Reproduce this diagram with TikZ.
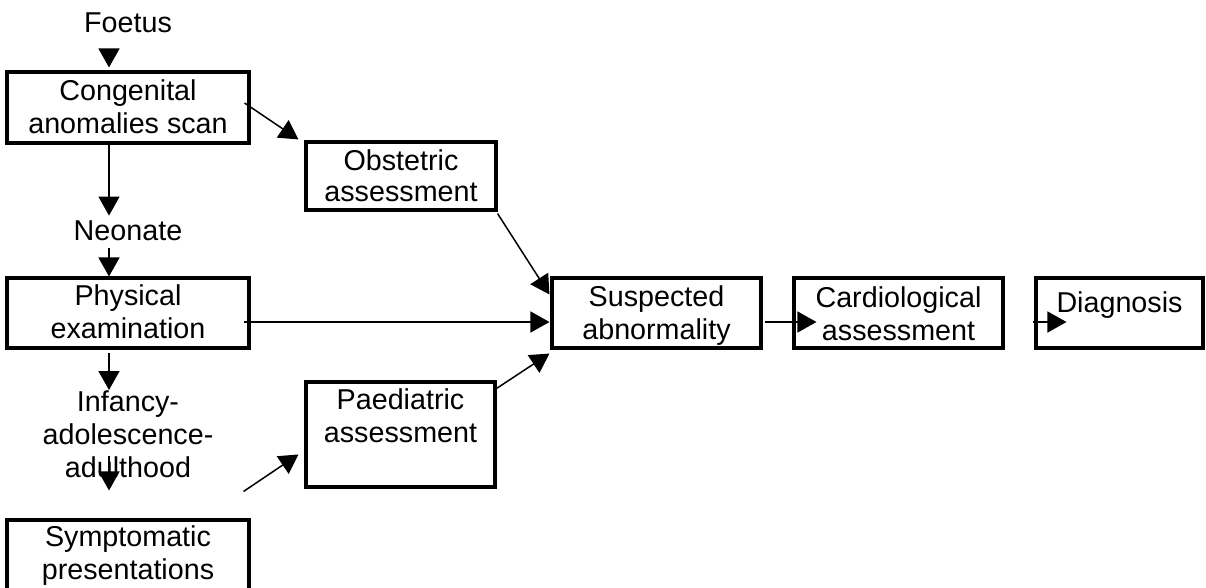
\documentclass[tikz,border=0pt]{standalone}
\usepackage{fontspec}
\setmainfont{Liberation Sans}
\usetikzlibrary{arrows.meta}
\begin{document}
\begin{tikzpicture}[x=1pt,y=-1pt,
  box/.style={draw, line width=3.1pt, inner sep=0pt},
  txt/.style={inner sep=0pt, align=center, font=\fontsize{28.7}{33}\selectfont},
  arr/.style={line width=1.5pt, -{Triangle[length=19pt,width=21pt]}},
]
\useasboundingbox (0,0) rectangle (1206,587);

% boxes
\node[box, minimum width=242pt, minimum height=71pt] (cong) at (128,107.5) {};
\node[box, minimum width=190pt, minimum height=68pt] (obst) at (401,176) {};
\node[box, minimum width=242pt, minimum height=70pt] (phys) at (128,313) {};
\node[box, minimum width=189pt, minimum height=105pt] (paed) at (400.5,434.5) {};
\node[box, minimum width=242pt, minimum height=71pt] (symp) at (128,555.5) {};
\node[box, minimum width=209pt, minimum height=70pt] (susp) at (656.5,313) {};
\node[box, minimum width=209pt, minimum height=70pt] (card) at (898.5,313) {};
\node[box, minimum width=167pt, minimum height=70pt] (diag) at (1119.5,313) {};

% box texts
\node[txt, anchor=north] (congT) at (cong.north) {\rule{0pt}{30pt}Congenital\\anomalies scan};
\node[txt, anchor=north] (obstT) at (obst.north) {\rule{0pt}{30pt}Obstetric\\[-2pt]assessment};
\node[txt, anchor=north] (physT) at (phys.north) {\rule{0pt}{29pt}Physical\\examination};
\node[txt, anchor=north] (paedT) at (paed.north) {\rule{0pt}{29pt}Paediatric\\assessment};
\node[txt, anchor=north] (sympT) at (symp.north) {\rule{0pt}{28pt}Symptomatic\\presentations};
\node[txt, anchor=north] (suspT) at (susp.north) {\rule{0pt}{30pt}Suspected\\abnormality};
\node[txt, anchor=north] (cardT) at (card.north) {\rule{0pt}{31pt}Cardiological\\assessment};
\node[txt, anchor=north] (diagT) at (diag.north) {\rule{0pt}{36pt}Diagnosis};

% free texts
\node[txt, anchor=base] (foetus) at (128,32) {Foetus};
\node[txt, anchor=base] (neonate) at (128,240) {Neonate};
\node[txt, anchor=north] (infancy) at (128,390) {\rule{0pt}{21pt}Infancy-\\adolescence-\\adulthood};

% connectors
\draw[arr] ([xshift=-19pt,yshift=-17pt]foetus.south) -- ([xshift=-19pt,yshift=3pt]cong.north);
\draw[arr] ([xshift=-19pt]cong.south) -- ([xshift=-19pt,yshift=4.5pt]neonate.north);
\draw[arr] ([xshift=-19pt,yshift=-8pt]neonate.south) -- ([xshift=-19pt]phys.north);
\draw[arr] ([xshift=-19pt,yshift=-3pt]phys.south) -- ([xshift=-19pt]infancy.north);
\draw[arr] ([xshift=-19pt,yshift=22pt]infancy.south) -- ([xshift=-19pt,yshift=28pt]symp.north);
\draw[arr] ([xshift=-7pt,yshift=27pt]symp.north east) -- ([xshift=-6pt,yshift=-74pt]paed.north west);
\draw[arr] ([xshift=-6pt,yshift=4.5pt]cong.east) -- ([xshift=-6pt,yshift=1pt]obst.north west);
\draw[arr] ([yshift=-2pt]obst.south east) -- ([xshift=-1pt,yshift=-18pt]susp.north west);
\draw[arr] ([xshift=-7pt,yshift=-9pt]phys.east) -- ([xshift=-1pt,yshift=-9pt]susp.west);
\draw[arr] ([yshift=-8pt]paed.north east) -- ([xshift=-1pt,yshift=-4pt]susp.south west);
\draw[arr] ([xshift=2pt,yshift=-9pt]susp.east) -- ([xshift=24pt,yshift=-9pt]card.west);
\draw[arr] ([xshift=28pt,yshift=-9pt]card.east) -- ([xshift=32pt,yshift=-9pt]diag.west);
\end{tikzpicture}
\end{document}
